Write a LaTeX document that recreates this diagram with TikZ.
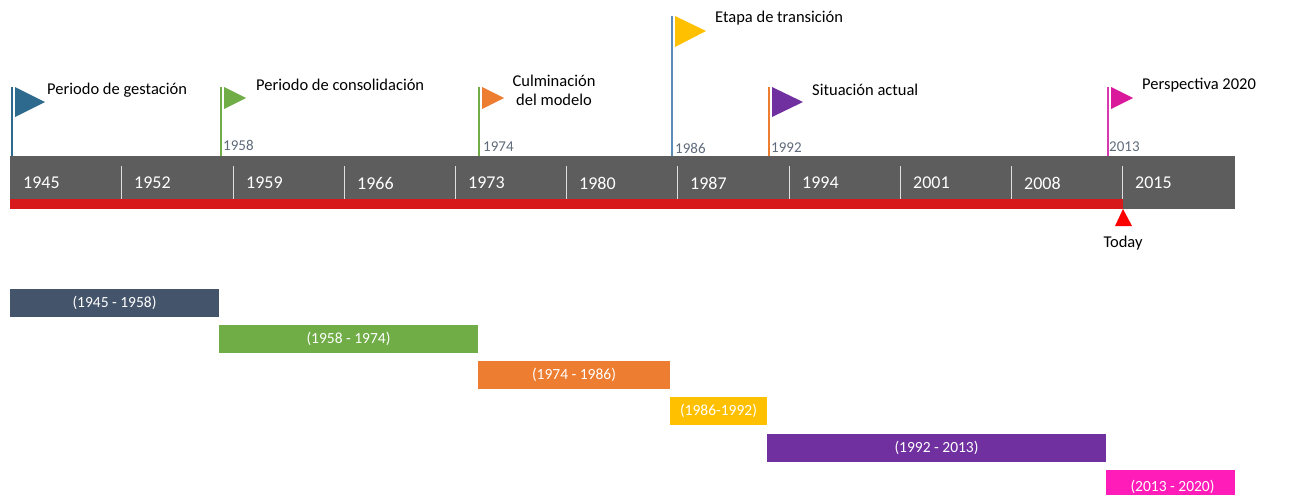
\documentclass[tikz,border=0pt]{standalone}
\usepackage{fontspec}
\setmainfont{Carlito}
\usepackage{pgf,tikz}
\definecolor{barra}{HTML}{5D5D5D}
\definecolor{rojo}{HTML}{D7191C}
\definecolor{pizarra}{HTML}{44546A}
\definecolor{azul}{HTML}{2E6A8E}
\definecolor{azulclaro}{HTML}{5B8DB8}
\definecolor{verde}{HTML}{70AD47}
\definecolor{naranja}{HTML}{ED7D31}
\definecolor{amarillo}{HTML}{FFC000}
\definecolor{morado}{HTML}{7030A0}
\definecolor{rosa}{HTML}{FF1CB8}
\definecolor{rosapalo}{HTML}{D838B0}
\definecolor{gris}{HTML}{5F6B7A}
\tikzset{
  etapa/.style={inner sep=0pt,text=black,font=\fontsize{16.5}{19}\selectfont,align=center},
  anio/.style={inner sep=0pt,anchor=west,text=gris,font=\fontsize{15}{17}\selectfont},
  decada/.style={inner sep=0pt,anchor=west,text=white,font=\fontsize{18}{20}\selectfont},
  periodo/.style={inner sep=0pt,minimum height=28,text=white,font=\fontsize{15.5}{18}\selectfont},
  poste/.style={line width=2pt}
}
\begin{document}
\begin{tikzpicture}[line cap=butt,line join=miter,x=1pt,y=-1pt]
\useasboundingbox (0,0) rectangle (1289,495);
% barra de tiempo
\fill[barra] (10,156) rectangle (1235,209);
\fill[rojo] (10,199) rectangle (1123,209);
\foreach \x in {121,233,344,455,566,677,789,900,1011,1122}
\draw[line width=0.8pt,color=white!80!barra] (\x,166) -- (\x,199);
\foreach \x/\t in {23/1945,134/1952,246/1959,357/1966,468/1973,579/1980,690/1987,802/1994,913/2001,1024/2008,1135/2015}
\node[decada] (d\t) at (\x,183) {\t};
\fill[red] (1123,209) -- (1132,226) -- (1115,226) -- cycle;
\node[etapa] (today) at (1123,243) {Today};
% banderas
\draw[poste,color=azul] (12,87) -- (12,156);
\fill[azul] (15,87) -- (45,102) -- (15,117) -- cycle;
\draw[poste,color=verde] (221,87) -- (221,156);
\fill[verde] (224,87) -- (246,98) -- (224,109) -- cycle;
\draw[poste,color=verde] (479,87) -- (479,156);
\fill[naranja] (482,87) -- (504,98) -- (482,109) -- cycle;
\draw[poste,color=azulclaro] (672,16) -- (672,156);
\fill[amarillo] (675,16) -- (706,31) -- (675,47) -- cycle;
\draw[poste,color=naranja] (769,87) -- (769,156);
\fill[morado] (772,87) -- (803,102) -- (772,117) -- cycle;
\draw[poste,color=rosapalo] (1108,87) -- (1108,156);
\fill[rosa!85!black] (1111,87) -- (1133,98) -- (1111,109) -- cycle;
\node[etapa,anchor=west] (gestacion) at (47,90) {Periodo de gestación};
\node[etapa,anchor=west] (consolidacion) at (256,85) {Periodo de consolidación};
\node[etapa] (culminacion) at (554,90) {Culminación\\del modelo};
\node[etapa,anchor=west] (transicion) at (715,18) {Etapa de transición};
\node[etapa,anchor=west] (actual) at (812,90) {Situación actual};
\node[etapa,anchor=west] (perspectiva) at (1142,85) {Perspectiva 2020};
\node[anio] (a1958) at (223,145) {1958};
\node[anio] (a1974) at (483,147) {1974};
\node[anio] (a1986) at (675,148) {1986};
\node[anio] (a1992) at (771,148) {1992};
\node[anio] (a2013) at (1109,147) {2013};
% periodos
\node[periodo,fill=pizarra,minimum width=209] (p1) at (114.5,303) {(1945 - 1958)};
\node[periodo,fill=verde,minimum width=259] (p2) at (348.5,339) {(1958 - 1974)};
\node[periodo,fill=naranja,minimum width=192] (p3) at (574,375) {(1974 - 1986)};
\node[periodo,fill=amarillo,minimum width=97] (p4) at (718.5,411) {(1986-1992)};
\node[periodo,fill=morado,minimum width=339] (p5) at (936.5,448) {(1992 - 2013)};
\fill[rosa] (1106,470) rectangle (1235,495);
\node[inner sep=0pt,text=white,font=\fontsize{15.5}{18}\selectfont] (p6) at (1172.5,487) {(2013 - 2020)};
\end{tikzpicture}
\end{document}
